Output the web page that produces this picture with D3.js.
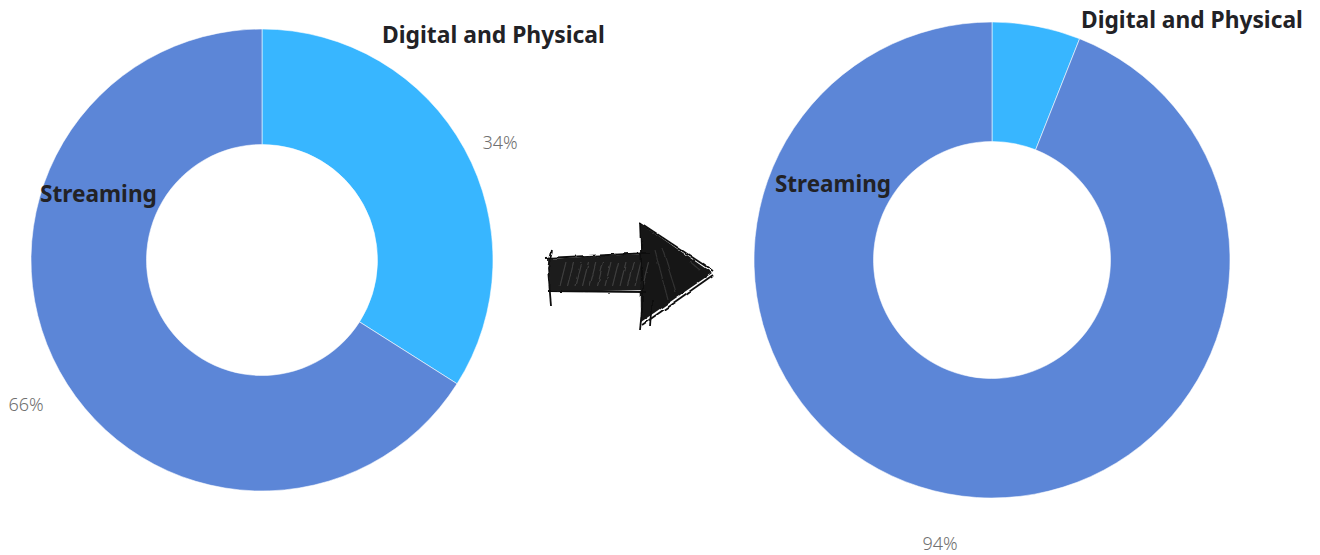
<!DOCTYPE html>
<html>
<head>
<meta charset="utf-8">
<script src="https://cdn.jsdelivr.net/npm/d3@7"></script>
<style>
  html, body { margin: 0; padding: 0; background: #ffffff; }
  svg { display: block; }
</style>
</head>
<body>
<svg id="chart" width="1320" height="555"></svg>
<script>
// Share of music revenue: before and after
const categories = ["Digital and Physical", "Streaming"];
const beforeValues = [34, 66];
const afterValues = [6, 94];
const sliceColors = ["#38b6ff", "#5c86d7"];

const svg = d3.select("#chart");
const FONT = "'Noto Sans', 'DejaVu Sans', sans-serif";

const color = d3.scaleOrdinal().domain(categories).range(sliceColors);
const pie = d3.pie().sort(null).value(d => d.value);

// Fit a bold label to a given width
function fitText(sel, width) {
  const w = sel.node().getComputedTextLength();
  const fs = parseFloat(sel.attr("font-size"));
  sel.attr("font-size", fs * width / w);
}

function donut(cfg) {
  const data = categories.map((c, i) => ({ name: c, value: cfg.values[i] }));
  const arcs = pie(data);
  const arc = d3.arc().innerRadius(cfg.inner).outerRadius(cfg.outer);
  const g = svg.append("g").attr("transform", `translate(${cfg.cx},${cfg.cy})`);

  g.selectAll("path.slice")
    .data(arcs)
    .join("path")
    .attr("class", "slice")
    .attr("d", arc)
    .attr("fill", d => color(d.data.name))
    .attr("stroke", "rgba(255,255,255,0.55)")
    .attr("stroke-width", 1);

  // category names
  cfg.names.forEach(n => {
    const t = svg.append("text")
      .attr("x", n.x).attr("y", n.y)
      .attr("font-family", FONT)
      .attr("font-weight", 700)
      .attr("font-size", 22)
      .attr("fill", "#222226")
      .text(categories[n.i]);
    fitText(t, n.w);
  });

  // percentage labels
  cfg.pcts.forEach(p => {
    svg.append("text")
      .attr("x", p.x).attr("y", p.y)
      .attr("text-anchor", "middle")
      .attr("font-family", FONT)
      .attr("font-weight", 300)
      .attr("font-size", 18)
      .attr("fill", "#707070")
      .text(data[p.i].value + "%");
  });
}

donut({
  cx: 262, cy: 260, outer: 231, inner: 115.5,
  values: beforeValues,
  names: [
    { i: 0, x: 382, y: 43, w: 223 },
    { i: 1, x: 40, y: 202, w: 117 }
  ],
  pcts: [
    { i: 0, x: 500, y: 149 },
    { i: 1, x: 26, y: 411 }
  ]
});

donut({
  cx: 992, cy: 260, outer: 238, inner: 118.5,
  values: afterValues,
  names: [
    { i: 0, x: 1081, y: 28, w: 222 },
    { i: 1, x: 775, y: 192, w: 116 }
  ],
  pcts: [
    { i: 1, x: 940, y: 550 }
  ]
});

// Hand-sketched arrow between the two rings
const defs = svg.append("defs");
const f = defs.append("filter").attr("id", "rough")
  .attr("x", "-10%").attr("y", "-10%").attr("width", "120%").attr("height", "120%");
f.append("feTurbulence").attr("type", "fractalNoise").attr("baseFrequency", 0.08)
  .attr("numOctaves", 2).attr("seed", 3).attr("result", "noise");
f.append("feDisplacementMap").attr("in", "SourceGraphic").attr("in2", "noise")
  .attr("scale", 3).attr("xChannelSelector", "R").attr("yChannelSelector", "G");

const arrow = svg.append("g").attr("filter", "url(#rough)");
const line = d3.line();

// body
arrow.append("path")
  .attr("d", line([[548, 259], [600, 256], [646, 254], [648, 290], [600, 291], [550, 292]]) + "Z")
  .attr("fill", "#1c1c1c");
arrow.append("path")
  .attr("d", line([[640, 223], [712, 273], [641, 322]]) + "Z")
  .attr("fill", "#161616");

// lighter hatching strokes inside the shaft
const hatch = [];
for (let k = 0; k < 12; k++) {
  const x0 = 560 + k * 7.5;
  hatch.push([[x0, 286], [x0 + 6, 262]]);
}
arrow.selectAll("path.hatch").data(hatch).join("path")
  .attr("class", "hatch")
  .attr("d", d => line(d))
  .attr("stroke", "#6a6a6a").attr("stroke-width", 1.2).attr("fill", "none")
  .attr("opacity", 0.45);

// loose outline strokes
const outline = [
  [[552, 250], [548, 268], [551, 306]],
  [[546, 258], [650, 253]],
  [[548, 291], [646, 292]],
  [[640, 222], [643, 300], [640, 330]],
  [[639, 222], [713, 271]],
  [[713, 275], [642, 325]],
  [[652, 300], [650, 326]]
];
arrow.selectAll("path.sk").data(outline).join("path")
  .attr("class", "sk")
  .attr("d", d => line(d))
  .attr("stroke", "#111").attr("stroke-width", 1.8).attr("fill", "none");

// light streaks in the head
arrow.selectAll("path.hl").data([
  [[655, 250], [668, 300]],
  [[662, 248], [676, 292]],
  [[690, 262], [700, 270]]
]).join("path")
  .attr("class", "hl")
  .attr("d", d => line(d))
  .attr("stroke", "#444").attr("stroke-width", 1.2).attr("fill", "none")
  .attr("opacity", 0.6);
</script>
</body>
</html>
